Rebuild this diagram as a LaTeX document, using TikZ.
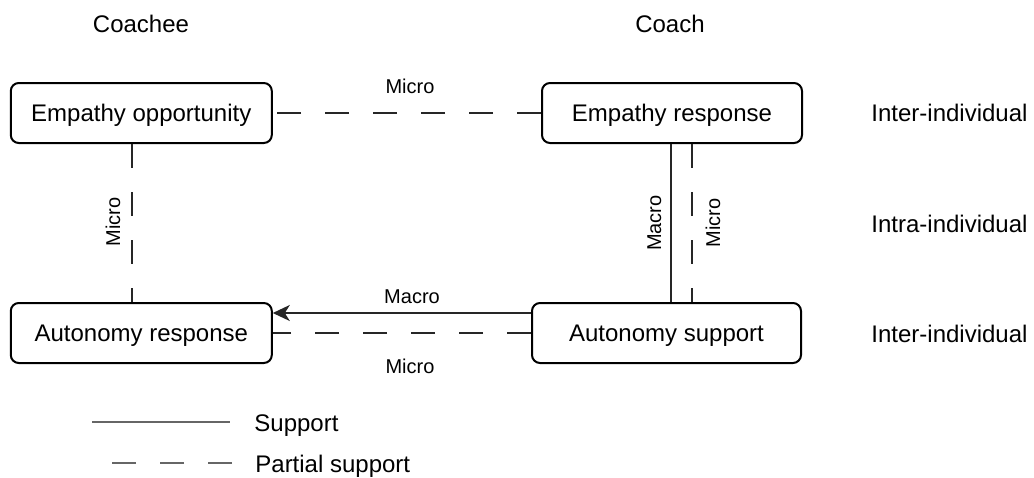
\documentclass[tikz,border=0pt]{standalone}
\usepackage{fontspec}
\setmainfont{Liberation Sans}
\usetikzlibrary{arrows.meta}
\begin{document}
\begin{tikzpicture}[x=0.5pt,y=-0.5pt,
  box/.style={draw, line width=1pt, rounded corners=4pt, minimum height=30pt, inner sep=0pt,
    font=\fontsize{12}{14}\selectfont, text height=8.6pt, text depth=0pt},
  lbl/.style={font=\fontsize{12}{14}\selectfont, inner sep=0pt, text height=8.6pt, text depth=0pt},
  small/.style={font=\fontsize{10}{12}\selectfont, inner sep=0pt, text height=7.2pt, text depth=0pt},
  conn/.style={line width=1pt, draw=black!85},
  partial/.style={conn, dash pattern=on 12pt off 12pt},
  legendline/.style={line width=1.3pt, draw=black!60},
  tipstyle/.style={-{Stealth[length=8.5pt,width=8pt,inset=2.5pt]}}
]
\useasboundingbox (0,0) rectangle (1034,477);

% column headers
\node[lbl] (coachee) at (141,24) {Coachee};
\node[lbl] (coach) at (670,24) {Coach};

% boxes
\node[box, minimum width=130.5pt] (eo) at (141.3,113) {Empathy opportunity};
\node[box, minimum width=130pt] (er) at (672,113) {Empathy response};
\node[box, minimum width=130.5pt] (ar) at (141.3,333) {Autonomy response};
\node[box, minimum width=134.5pt] (as) at (666.5,333) {Autonomy support};

% row labels
\node[lbl, anchor=west] (inter1) at (871,113) {Inter-individual};
\node[lbl, anchor=west] (intra) at (871,224) {Intra-individual};
\node[lbl, anchor=west] (inter2) at (871,334) {Inter-individual};

% helper coordinates
\coordinate (lx) at (131.5,0);
\coordinate (rs) at (671,0);
\coordinate (rd) at (692,0);
\coordinate (ya) at (0,313);
\coordinate (yb) at (0,333);

% connectors
\draw[partial] (er.west) -- (eo.east);
\node[small] (m1) at (410,86) {Micro};

\draw[partial] (lx |- eo.south) -- (lx |- ar.north);
\node[small, rotate=90] (m2) at (113,222) {Micro};

\draw[conn] (rs |- er.south) -- (rs |- as.north);
\node[small, rotate=90] (m3) at (654,223) {Macro};
\draw[partial] (rd |- er.south) -- (rd |- as.north);
\node[small, rotate=90] (m4) at (713,223) {Micro};

\draw[conn, tipstyle] (ya -| as.west) -- (ya -| ar.east);
\node[small] (m5) at (412,296) {Macro};
\draw[partial] (yb -| as.west) -- (yb -| ar.east);
\node[small] (m6) at (410,366) {Micro};

% legend
\coordinate (la1) at (92,422);
\coordinate (la2) at (230,422);
\draw[legendline] (la1) -- (la2);
\node[lbl, anchor=west] (sup) at (254,423) {Support};
\coordinate (lb1) at (232,463);
\coordinate (lb2) at (92,463);
\draw[legendline, dash pattern=on 12pt off 12pt] (lb1) -- (lb2);
\node[lbl, anchor=west] (psup) at (255,464) {Partial support};
\end{tikzpicture}
\end{document}
